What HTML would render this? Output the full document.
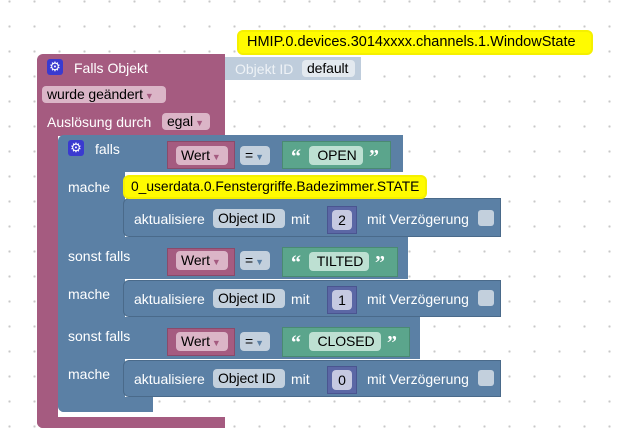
<!DOCTYPE html>
<html><head><meta charset="utf-8"><style>
body{margin:0;width:624px;height:445px;overflow:hidden;background:#fff;
background-image:radial-gradient(circle,#c8c8c8 1px,transparent 1.3px);background-size:25px 25px;background-position:-3px -11px;
font-family:"Liberation Sans",sans-serif;font-size:14px;position:relative}
.a{position:absolute;box-sizing:border-box}
.p{background:#a55b80}.b{background:#5b80a5}.g{background:#5ba58c}.n{background:#5b67a5}
.t{position:absolute;color:#fff;white-space:nowrap;line-height:16px}
.f{position:absolute;border-radius:4px;color:#000;white-space:nowrap;line-height:17px;height:17px;padding:0 3px 0 5px;box-sizing:border-box;letter-spacing:-0.1px}
.fp{background:#dbb5c7}.fb{background:#c3d0dd}.fg{background:#bde0d2;text-align:center}.fn{background:#c6c9e1;text-align:center;padding:0}
.y{position:absolute;background:#fffb00;border:2px solid #f5f000;border-radius:6px;color:#000;white-space:nowrap;line-height:19px;padding:0 8px;box-sizing:border-box}
.gear{position:absolute;width:16px;height:16px;background:#3a3ad0;border-radius:3px;color:#fff;font-size:13px;line-height:16px;text-align:center}
.ar{font-size:9px;color:#a55b80;margin-left:2px}
.ab{font-size:9px;color:#5b80a5;margin-left:2px}
.q{position:absolute;color:#fff;font-weight:bold;font-size:20px;line-height:20px;font-family:"Liberation Serif",serif}
.chk{position:absolute;width:16px;height:16px;background:#c3d0dd;border-radius:3px}
</style></head><body>
<div class="y" style="left:237px;top:30px;width:356px;height:25px;line-height:21px;font-size:14.5px">HMIP.0.devices.3014xxxx.channels.1.WindowState</div>
<div class="a p" style="left:37px;top:54px;width:188px;height:82px;border-radius:6px 0 0 0"></div>
<div class="a p" style="left:37px;top:130px;width:21px;height:298px;border-radius:0 0 0 6px"></div>
<div class="a p" style="left:37px;top:417px;width:188px;height:11px;border-radius:0 0 0 6px"></div>
<div class="gear" style="left:47px;top:59px">⚙</div>
<div class="t" style="left:74px;top:60px">Falls Objekt</div>
<div class="f fp" style="left:42px;top:86px;width:124px">wurde geändert<span class="ar">▼</span></div>
<div class="t" style="left:47px;top:114px">Auslösung durch</div>
<div class="f fp" style="left:162px;top:113px;width:48px">egal<span class="ar">▼</span></div>
<div class="a" style="left:225px;top:57px;width:136px;height:23px;background:#bfcddc"></div>
<div class="t" style="left:235px;top:61px;color:#eef2f6">Objekt ID</div>
<div class="f" style="left:302px;top:60px;width:53px;background:#e3e9ef">default</div>
<div class="a b" style="left:58px;top:135px;width:345px;height:37px;border-radius:6px 0 0 0"></div>
<div class="a b" style="left:58px;top:170px;width:67px;height:242px;border-radius:0 0 0 6px"></div>
<div class="a b" style="left:58px;top:397px;width:95px;height:15px;border-radius:0 0 0 6px"></div>
<div class="a b" style="left:58px;top:237px;width:350px;height:42px"></div>
<div class="a b" style="left:58px;top:317px;width:362px;height:42px"></div>
<div class="gear" style="left:68px;top:140px">⚙</div>
<div class="t" style="left:95px;top:141px">falls</div>
<div class="t" style="left:68px;top:179px">mache</div>
<div class="t" style="left:68px;top:248px">sonst falls</div>
<div class="t" style="left:68px;top:286px">mache</div>
<div class="t" style="left:68px;top:328px">sonst falls</div>
<div class="t" style="left:68px;top:366px">mache</div>

<div class="a p" style="left:167px;top:141px;width:68px;height:28px;border:1px solid #8a4a6a"></div>
<div class="f fp" style="left:176px;top:146px;width:52px;height:19px;line-height:19px">Wert<span class="ar">▼</span></div>
<div class="f fb" style="left:240px;top:146px;width:30px;height:19px;line-height:19px">=<span class="ab">▼</span></div>
<div class="a g" style="left:282px;top:141px;width:109px;height:28px;border:1px solid #4a8a72"></div>
<div class="q" style="left:291px;top:147px">“</div>
<div class="f fg" style="left:309px;top:146px;width:54px;height:19px;line-height:19px">OPEN</div>
<div class="q" style="left:369px;top:147px">”</div>

<div class="a p" style="left:167px;top:248px;width:68px;height:28px;border:1px solid #8a4a6a"></div>
<div class="f fp" style="left:176px;top:251px;width:52px;height:19px;line-height:19px">Wert<span class="ar">▼</span></div>
<div class="f fb" style="left:240px;top:251px;width:30px;height:19px;line-height:19px">=<span class="ab">▼</span></div>
<div class="a g" style="left:282px;top:247px;width:116px;height:30px;border:1px solid #4a8a72"></div>
<div class="q" style="left:291px;top:253px">“</div>
<div class="f fg" style="left:309px;top:252px;width:60px;height:19px;line-height:19px">TILTED</div>
<div class="q" style="left:375px;top:253px">”</div>

<div class="a p" style="left:167px;top:328px;width:68px;height:28px;border:1px solid #8a4a6a"></div>
<div class="f fp" style="left:176px;top:332px;width:52px;height:19px;line-height:19px">Wert<span class="ar">▼</span></div>
<div class="f fb" style="left:240px;top:332px;width:30px;height:19px;line-height:19px">=<span class="ab">▼</span></div>
<div class="a g" style="left:282px;top:327px;width:128px;height:30px;border:1px solid #4a8a72"></div>
<div class="q" style="left:291px;top:333px">“</div>
<div class="f fg" style="left:309px;top:332px;width:72px;height:19px;line-height:19px">CLOSED</div>
<div class="q" style="left:387px;top:333px">”</div>

<div class="a b" style="left:123px;top:198px;width:378px;height:39px;border:1px solid #4a6a8a;border-radius:6px 0 0 6px"></div>
<div class="a b" style="left:123px;top:280px;width:378px;height:37px;border:1px solid #4a6a8a;border-radius:6px 0 0 6px"></div>
<div class="a b" style="left:123px;top:360px;width:378px;height:37px;border:1px solid #4a6a8a;border-radius:6px 0 0 6px"></div>
<div class="y" style="left:123px;top:175px;width:304px;height:24px;line-height:20px;padding:0 6px;font-size:13.8px">0_userdata.0.Fenstergriffe.Badezimmer.STATE</div>

<div class="t" style="left:134px;top:211px">aktualisiere</div>
<div class="f fb" style="left:213px;top:209px;width:72px;height:19px;line-height:19px">Object ID</div>
<div class="t" style="left:291px;top:211px">mit</div>
<div class="a n" style="left:327px;top:206px;width:30px;height:28px;border:1px solid #4a5590"></div>
<div class="f fn" style="left:332px;top:210px;width:20px;height:20px;line-height:20px">2</div>
<div class="t" style="left:367px;top:211px">mit Verzögerung</div>
<div class="chk" style="left:478px;top:210px"></div>

<div class="t" style="left:134px;top:291px">aktualisiere</div>
<div class="f fb" style="left:213px;top:289px;width:72px;height:19px;line-height:19px">Object ID</div>
<div class="t" style="left:291px;top:291px">mit</div>
<div class="a n" style="left:327px;top:286px;width:30px;height:28px;border:1px solid #4a5590"></div>
<div class="f fn" style="left:332px;top:290px;width:20px;height:20px;line-height:20px">1</div>
<div class="t" style="left:367px;top:291px">mit Verzögerung</div>
<div class="chk" style="left:478px;top:290px"></div>

<div class="t" style="left:134px;top:371px">aktualisiere</div>
<div class="f fb" style="left:213px;top:369px;width:72px;height:19px;line-height:19px">Object ID</div>
<div class="t" style="left:291px;top:371px">mit</div>
<div class="a n" style="left:327px;top:366px;width:30px;height:28px;border:1px solid #4a5590"></div>
<div class="f fn" style="left:332px;top:370px;width:20px;height:20px;line-height:20px">0</div>
<div class="t" style="left:367px;top:371px">mit Verzögerung</div>
<div class="chk" style="left:478px;top:370px"></div>
</body></html>
